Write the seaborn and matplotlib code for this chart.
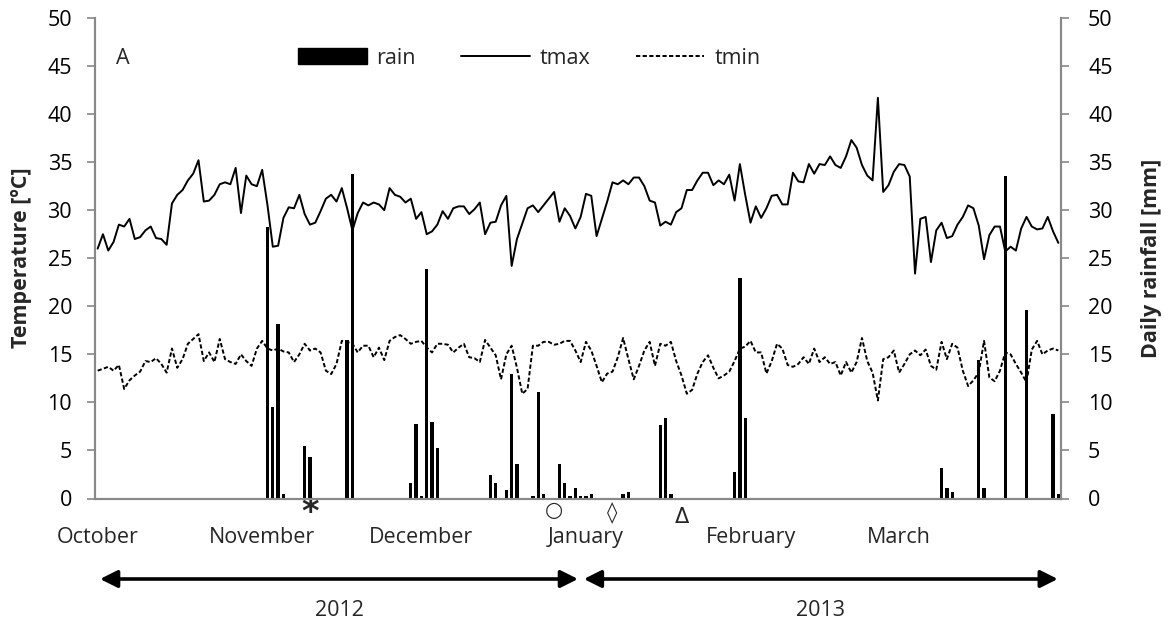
import numpy as np
import pandas as pd
import matplotlib
matplotlib.use("Agg")
import matplotlib.pyplot as plt
import matplotlib.transforms as mtransforms
from matplotlib.lines import Line2D
from matplotlib.patches import Patch
import seaborn as sns

# ---------------------------------------------------------------- data
dates = pd.date_range("2012-10-01", "2013-03-31", freq="D")

tmax = [
    26.0, 27.5, 25.8, 26.7, 28.5, 28.3, 29.1, 27.0, 27.2, 27.9, 28.3, 27.1, 27.0, 26.4, 30.7, 31.6,
    32.1, 33.1, 33.8, 35.2, 30.9, 31.0, 31.6, 32.7, 32.9, 32.7, 34.4, 29.7, 33.6, 32.7, 32.5, 34.2,
    30.5, 26.2, 26.3, 29.2, 30.3, 30.2, 31.6, 29.6, 28.5, 28.7, 29.9, 31.2, 31.6,
    30.9, 32.3, 30.2, 27.9, 29.7, 30.8, 30.5, 30.8, 30.6, 30.0, 32.3, 31.6, 31.4, 30.8, 31.2, 29.1,
    29.8, 27.5, 27.8, 28.5, 29.9, 29.1, 30.2, 30.4, 30.4, 29.6, 30.1, 30.8, 27.5, 28.7, 28.8, 30.5,
    31.5, 24.2, 27.0, 28.6, 30.2, 30.5, 29.8, 30.5, 31.2, 31.9, 28.8, 30.2, 29.4, 28.1,
    29.3, 31.7, 31.5, 27.3, 29.1, 30.9, 32.9, 32.7, 33.1, 32.7, 33.4, 33.4, 32.5, 31.0, 30.8, 28.4,
    28.8, 28.5, 29.8, 30.2, 32.1, 32.1, 33.1, 33.9, 33.9, 32.6, 33.1, 32.7, 33.7, 31.0, 34.8, 31.6,
    28.7, 30.4, 29.2, 30.2, 31.5, 31.6, 30.6, 30.6, 33.9, 33.0, 32.9, 34.8, 33.8, 34.8, 34.7, 35.6,
    34.7, 34.4, 35.6, 37.3, 36.5, 34.7, 33.6, 33.1,
    41.7, 31.9, 32.6, 34.0, 34.8, 34.7, 33.5, 23.4, 29.1, 29.3, 24.6, 27.9, 28.7, 27.1, 27.3, 28.5,
    29.3, 30.5, 30.2, 28.4, 24.9, 27.4, 28.3, 28.3, 25.7, 26.2, 25.8, 28.1, 29.3, 28.3, 28.0, 28.1,
    29.3, 27.8, 26.6,
]

tmin = [
    13.3, 13.5, 13.7, 13.3, 13.9, 11.4, 12.3, 12.8, 13.2, 14.3, 14.2, 14.6, 14.0, 13.1, 15.6, 13.6,
    14.5, 16.1, 16.6, 17.1, 14.3, 15.2, 14.2, 16.6, 14.5, 14.2, 14.0, 15.0, 14.3, 13.8, 15.6, 16.4,
    15.6, 15.4, 15.6, 15.3, 15.2, 14.2, 15.0, 16.1, 15.4, 15.6, 15.2,
    13.3, 12.95, 14.0, 16.4, 16.3, 16.1, 15.2, 15.9, 15.9, 14.7, 15.7, 14.4, 16.4, 16.8, 17.0, 16.6,
    16.1, 16.3, 16.4, 15.7, 15.2, 16.1, 16.1, 16.0, 15.2, 15.7, 16.1, 14.7, 14.6, 14.2, 16.5, 15.7,
    14.9, 12.4, 15.0, 15.9, 13.6, 10.9, 11.4, 15.9, 15.9, 16.3, 16.3, 16.0, 16.1, 16.4, 16.4, 15.4,
    14.2, 16.3, 15.4, 13.8, 12.1, 13.0, 13.2, 14.7, 16.7, 14.5, 12.4, 13.8, 15.4, 16.3, 13.8, 16.1,
    15.9, 16.3, 14.3, 12.8, 10.9, 11.3, 13.0, 14.2, 14.9, 13.6, 12.5, 12.8, 13.2, 14.3, 15.6, 15.8,
    16.4, 15.2, 15.2, 13.0, 14.3, 16.1, 15.6, 13.9, 13.7, 14.0, 14.7, 14.0, 15.6, 14.2, 14.7, 14.0,
    14.2, 12.8, 14.2, 13.1, 14.2, 16.7, 14.3, 13.1, 10.2,
    14.5, 14.7, 15.4, 13.1, 14.0, 15.0, 15.4, 14.9, 15.5, 13.8, 13.4, 16.3, 14.5, 16.1, 15.7, 13.3,
    11.7, 12.3, 13.1, 16.4, 12.6, 12.2, 13.3, 15.2, 15.0, 14.0, 13.1, 12.1, 15.5, 16.4, 15.0, 15.4,
    15.6, 15.4,
]

rain_dates = [
    "2012-11-02", "2012-11-03", "2012-11-04", "2012-11-05", "2012-11-09", "2012-11-10",
    "2012-11-17", "2012-11-18", "2012-11-29", "2012-11-30", "2012-12-01", "2012-12-02",
    "2012-12-03", "2012-12-04", "2012-12-14", "2012-12-15", "2012-12-17", "2012-12-18",
    "2012-12-19", "2012-12-22", "2012-12-23", "2012-12-24", "2012-12-27", "2012-12-28",
    "2012-12-29", "2012-12-30", "2012-12-31", "2013-01-01", "2013-01-02", "2013-01-08",
    "2013-01-09", "2013-01-15", "2013-01-16", "2013-01-17", "2013-01-29", "2013-01-30",
    "2013-01-31", "2013-03-09", "2013-03-10", "2013-03-11", "2013-03-16", "2013-03-17",
    "2013-03-21", "2013-03-25", "2013-03-30", "2013-03-31",
]
rain_mm = [
    28.3, 9.5, 18.2, 0.5, 5.5, 4.3,
    16.5, 33.8, 1.6, 7.8, 0.3, 23.9,
    8.0, 5.3, 2.4, 1.6, 0.9, 13.0,
    3.6, 0.3, 11.1, 0.5, 3.6, 1.6,
    0.3, 1.1, 0.3, 0.3, 0.5, 0.5,
    0.7, 7.6, 8.4, 0.5, 2.8, 22.9,
    8.4, 3.2, 1.1, 0.7, 14.4, 1.1,
    33.6, 19.6, 8.8, 0.5,
]

month_labels = ["October", "November", "December", "January", "February", "March"]
year_labels = ["2012", "2013"]
event_symbols = ["*", "\u25cb", "\u25ca", "\u0394"]
event_dates = ["2012-11-10", "2012-12-26", "2013-01-06", "2013-01-19"]

# ---------------------------------------------------------------- frames
day = np.arange(len(dates))
temps = pd.DataFrame({"day": day, "tmax": tmax, "tmin": tmin})
rain = pd.DataFrame({"date": pd.to_datetime(rain_dates), "rain": rain_mm})
rain["day"] = (rain["date"] - dates[0]).dt.days

# ---------------------------------------------------------------- style
sns.set_theme(style="white")
plt.rcParams["font.family"] = ["Open Sans", "DejaVu Sans"]
FS = 15.5
GREY = "#888888"

W, H = 1171, 623
fig = plt.figure(figsize=(W / 100, H / 100), dpi=100)
px_left, px_right, px_bottom, px_top = 95, 1061, 498.5, 18
ax = fig.add_axes([px_left / W, 1 - px_bottom / H,
                   (px_right - px_left) / W, (px_bottom - px_top) / H])
ax2 = ax.twinx()

# temperature lines (left axis)
sns.lineplot(data=temps, x="day", y="tmax", color="black", lw=1.4, ax=ax)
sns.lineplot(data=temps, x="day", y="tmin", color="black", lw=1.4,
             linestyle=(0, (2.2, 1.2)), ax=ax)

# daily rainfall bars (right axis)
sns.barplot(data=rain, x="day", y="rain", native_scale=True, width=0.62,
            color="black", saturation=1, errorbar=None, linewidth=0,
            ax=ax2)
for p in ax2.patches:
    p.set_antialiased(False)

for a in (ax, ax2):
    a.set_xlim(-0.5, len(dates) - 0.5)
    a.set_ylim(0, 50)
    a.set_yticks(np.arange(0, 51, 5))
    a.set_xlabel("")
    a.set_ylabel("")
    a.spines["top"].set_visible(False)
    for s in ("left", "right", "bottom"):
        a.spines[s].set_color(GREY)
        a.spines[s].set_linewidth(1.5)
    a.grid(False)

month_starts = [i for i, d in enumerate(dates) if d.day == 1]
bounds = [i - 0.5 for i in month_starts] + [len(dates) - 0.5]
ax.set_xticks(bounds)
ax.set_xticklabels([])
ax.tick_params(axis="x", direction="out", length=5.5, width=1.2, color=GREY)
ax.tick_params(axis="y", direction="out", length=5.5, width=1.2, color=GREY,
               pad=11, labelsize=FS, labelcolor="black")
ax2.tick_params(axis="y", direction="out", length=5.5, width=1.2, color=GREY,
                pad=14, labelsize=FS, labelcolor="black")

# month names, event symbols, year arrows
tx = mtransforms.blended_transform_factory(ax.transData, fig.transFigure)
for i, lab in zip(month_starts, month_labels):
    ax.text(i, 1 - 543 / H, lab, transform=tx, ha="center", va="baseline",
            fontsize=FS)

event_y = [522, 516, 519, 523]
for sym, d, yy in zip(event_symbols, event_dates, event_y):
    xi = (pd.Timestamp(d) - dates[0]).days
    kw = dict(fontsize=24, fontweight="bold") if sym == "*" else dict(fontsize=15)
    ax.text(xi, 1 - yy / H, sym, transform=tx, ha="center", va="baseline",
            family=["DejaVu Sans"], **kw)

year_spans = [(0.45, 90.5), (91.6, 180.9)]
for lab, (xa, xb) in zip(year_labels, year_spans):
    ax.annotate("", xy=(xb, 1 - 579 / H), xytext=(xa, 1 - 579 / H),
                xycoords=tx, textcoords=tx, annotation_clip=False,
                arrowprops=dict(arrowstyle="<|-|>", color="black", lw=2.6,
                                mutation_scale=26, shrinkA=0, shrinkB=0))
    ax.text((xa + xb) / 2, 1 - 616.5 / H, lab, transform=tx, ha="center",
            va="baseline", fontsize=FS)

# axis titles and panel letter
fig.text(22 / W, 1 - 258 / H, "Temperature [\u00baC]", rotation=90, ha="center",
         va="center", fontsize=FS, fontweight="bold")
fig.text(1152 / W, 1 - 258 / H, "Daily rainfall [mm]", rotation=90, ha="center",
         va="center", fontsize=FS, fontweight="bold")
fig.text(123 / W, 1 - 58 / H, "A", ha="center", va="center", fontsize=FS)

handles = [Patch(facecolor="black", edgecolor="black"),
           Line2D([], [], color="black", lw=1.4),
           Line2D([], [], color="black", lw=1.4, linestyle=(0, (2.2, 1.2)))]
fig.legend(handles, ["rain", "tmax", "tmin"], loc="center",
           bbox_to_anchor=(529 / W, 1 - 58 / H), ncol=3, frameon=False,
           fontsize=FS, handlelength=3.2, handleheight=0.7, handletextpad=0.45,
           columnspacing=2.1, borderpad=0, borderaxespad=0)

fig.savefig("out.png", dpi=100)
